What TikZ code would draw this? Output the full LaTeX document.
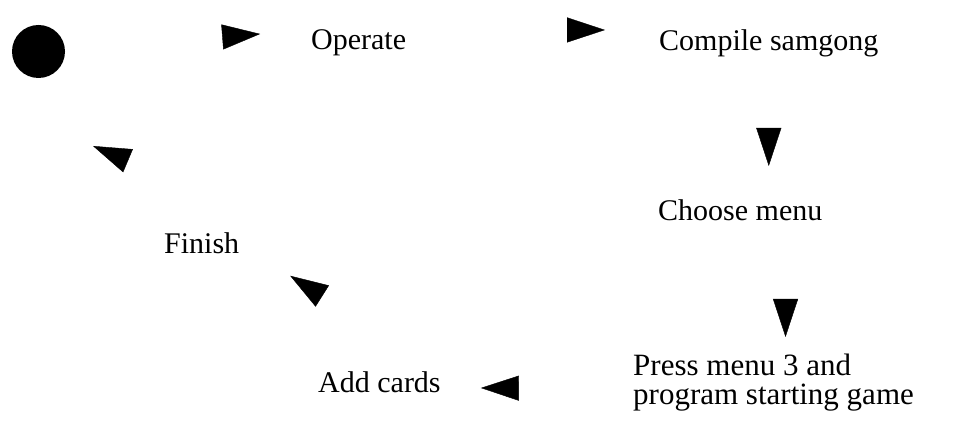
\documentclass[tikz,border=0pt]{standalone}
\usepackage{fontspec}
\setmainfont{Liberation Serif}
\usetikzlibrary{arrows.meta}

\begin{document}
\begin{tikzpicture}[x = 1pt, y = -1pt,
    state/.style = {inner sep = 0, font = \fontsize{30}{29}\selectfont},
    flow/.style = {draw = white, -{Triangle[black, length = 38pt, width = 25pt]}}]
    \useasboundingbox (0,0) rectangle (958,427);
    \node [circle, fill, minimum size = 53pt, inner sep = 0] (start) at (38.5,51.5) {};
    \node [state, anchor = base west] (operate) at (311,50) {Operate};
    \node [state, anchor = base west] (compile) at (659,51) {Compile samgong};
    \node [state, anchor = base west] (choose) at (658,221) {Choose menu};
    \node [state, anchor = north west, align = left, font = \fontsize{31}{29}\selectfont]
    (press) at (633,354) {Press menu 3 and\\program starting game};
    \node [state, anchor = base west] (add) at (318,392) {Add cards};
    \node [state, anchor = base west] (fin) at (164,254) {Finish};
    \coordinate (end) at (93,146);
    \draw [flow, shorten > = 51pt] (start) -- (operate.north west);
    \draw [flow, shorten > = 54pt] (operate.north east) -- (compile.north west);
    \draw [flow, shorten > = 34pt] (compile.south) -- (compile.south |- choose.north);
    \draw [flow, shorten > = 17pt] ([xshift = 12pt] press.north |- choose.south) --
    ([xshift = 12pt] press.north);
    \draw [flow, shorten > = 40pt] ([yshift = -6pt] press.west) --
    ([yshift = -6pt] add.east);
    \draw [flow, shorten > = 60pt] (add.north east) -- (fin.east);
    \draw [flow] (fin) .. controls (150,170) .. (end);
\end{tikzpicture}
\end{document}
